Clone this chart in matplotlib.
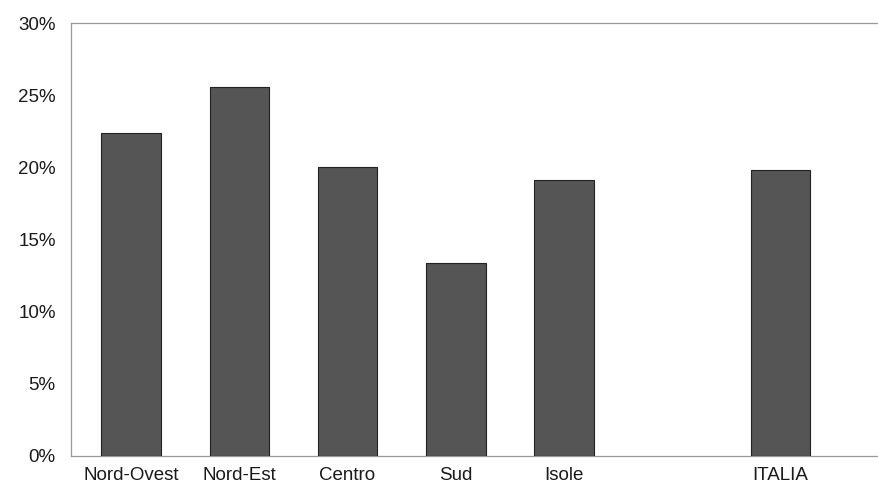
import numpy as np
import matplotlib
matplotlib.use("Agg")
import matplotlib.pyplot as plt
from matplotlib.ticker import FuncFormatter

categories = ["Nord-Ovest", "Nord-Est", "Centro", "Sud", "Isole", "", "ITALIA"]
values = [22.4, 25.6, 20.0, 13.4, 19.1, np.nan, 19.8]
yticks = [0, 5, 10, 15, 20, 25, 30]

plt.rcParams['font.family'] = ['Liberation Sans', 'DejaVu Sans']

fig = plt.figure(figsize=(8.79, 4.92), dpi=100)
ax = fig.add_axes([71/879, 36/492, 1 - 71/879, 433/492])

x = np.arange(len(categories))
ax.bar(x, values, width=0.55, color='#555555', edgecolor='#222222', linewidth=0.8, zorder=3)

ax.set_xlim(-0.555, 6.91)
ax.set_ylim(0, 30)
ax.set_yticks(yticks)
ax.yaxis.set_major_formatter(FuncFormatter(lambda v, p: f"{int(v)}%"))
ax.set_xticks(x)
ax.set_xticklabels(categories)
ax.tick_params(axis='y', length=0, pad=11, labelsize=13.5, labelcolor='#1a1a1a')
ax.tick_params(axis='x', length=0, pad=8, labelsize=13.5, labelcolor='#1a1a1a')

for side in ['left', 'top', 'bottom']:
    ax.spines[side].set_color('#9a9a9a')
    ax.spines[side].set_linewidth(0.9)
ax.spines['right'].set_visible(False)

fig.savefig("out.png", dpi=100)
